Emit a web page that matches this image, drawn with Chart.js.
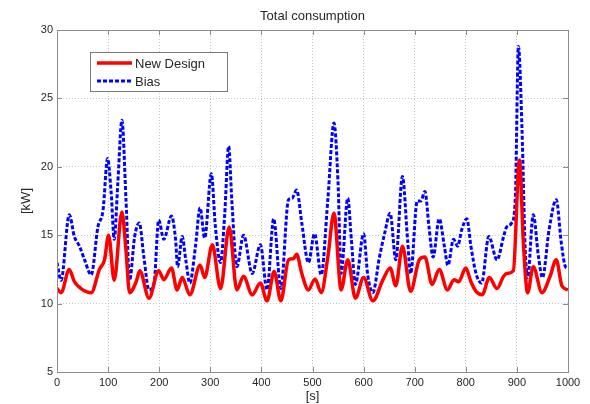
<!DOCTYPE html>
<html lang="en">
<head>
  <meta charset="UTF-8">
  <title>Total consumption</title>
  <script src="https://cdn.jsdelivr.net/npm/chart.js"></script>
  <style>
    html, body { margin: 0; padding: 0; background: #fff; }
    #wrap { width: 590px; height: 404px; }
  </style>
</head>
<body>
  <div id="wrap"><canvas id="consumptionChart"></canvas></div>
  <script>
    // values
    const chartTitle = 'Total consumption';
    const xTicks = [0, 100, 200, 300, 400, 500, 600, 700, 800, 900, 1000];
    const yTicks = [5, 10, 15, 20, 25, 30];

    const newDesignTime = [0, 8, 24, 34, 47, 67, 83, 93, 101, 112, 127, 135, 142, 155, 162, 180, 199, 209, 224, 235,
      245, 260, 280, 289, 304, 320, 337, 352, 365, 382, 398, 411, 425, 438, 453, 463, 469, 479, 492, 505,
      517, 530, 542, 556, 569, 584, 600, 618, 638, 652, 663, 676, 692, 709, 720, 734, 748, 764, 777, 786,
      800, 810, 820, 832, 846, 861, 874, 880, 893, 905, 913, 921, 932, 949, 965, 977, 988, 1000];
    const newDesignKW = [11.1, 10.8, 12.5, 11.6, 11.1, 10.8, 12.5, 13.2, 15.0, 11.7, 16.7, 13.9, 10.8, 11.6, 12.4, 10.4, 12.4, 11.75, 12.6, 11.0,
      11.9, 10.65, 12.8, 11.9, 14.3, 11.1, 15.6, 11.0, 12.0, 10.65, 11.5, 10.2, 12.35, 10.2, 13.2, 13.3, 13.6, 12.2, 11.0, 11.8,
      10.8, 13.4, 16.6, 11.0, 13.2, 10.4, 11.9, 10.2, 11.75, 12.6, 11.3, 14.2, 10.9, 13.2, 13.4, 11.4, 12.5, 11.0, 11.75, 11.6,
      12.6, 11.6, 10.9, 10.65, 11.9, 11.1, 12.0, 12.2, 12.4, 20.5, 14.2, 10.8, 12.7, 10.8, 12.0, 13.2, 11.3, 11.0];

    const biasTime = [0, 8, 24, 34, 44, 54, 67, 80, 90, 99, 106, 112, 119, 127, 135, 142, 152, 161, 170, 180,
      190, 199, 209, 224, 232, 236, 245, 252, 260, 271, 280, 289, 302, 310, 320, 328, 336, 342, 352, 365,
      382, 398, 411, 424, 438, 453, 460, 469, 479, 492, 504, 517, 530, 542, 550, 556, 569, 576, 584, 600,
      608, 618, 631, 641, 652, 663, 676, 686, 692, 705, 712, 720, 728, 736, 748, 758, 765, 776, 784, 792,
      802, 810, 820, 831, 845, 861, 874, 880, 890, 897, 903, 910, 916, 921, 932, 942, 950, 963, 977, 987,
      995, 1000];
    const biasKW = [13.0, 11.7, 16.5, 14.9, 14.2, 13.2, 12.1, 15.6, 16.8, 20.6, 18.1, 14.7, 18.8, 23.4, 17.6, 11.7, 14.9, 15.9, 13.4, 11.0,
      11.5, 16.1, 14.7, 16.4, 14.7, 12.7, 14.9, 13.2, 11.5, 14.2, 17.0, 14.8, 19.5, 15.6, 13.0, 16.4, 21.5, 17.6, 12.7, 15.0,
      12.2, 14.3, 11.0, 16.2, 11.1, 17.6, 17.7, 18.3, 15.9, 13.0, 15.1, 12.1, 17.6, 23.2, 18.8, 12.2, 17.7, 14.7, 11.4, 15.1,
      12.1, 10.8, 13.4, 15.1, 16.6, 13.2, 19.3, 14.7, 12.2, 17.5, 17.5, 18.2, 15.6, 13.4, 16.2, 14.2, 12.8, 14.7, 14.2, 15.4,
      16.2, 14.2, 12.2, 11.5, 14.9, 13.2, 14.9, 15.6, 15.9, 17.8, 28.8, 22.7, 14.2, 11.9, 16.5, 13.5, 11.9, 15.4, 17.6, 14.4,
      12.7, 12.6];

    const toPoints = (xs, ys) => xs.map((x, i) => ({ x: x, y: ys[i] }));

    const textColor = '#262626';
    const frameColor = '#8c8c8c';
    const fontFamily = 'Arial, "Liberation Sans", Helvetica, sans-serif';

    // title, box frame, inner ticks and the boxed legend inside the axes
    const matlabLook = {
      id: 'matlabLook',
      afterDraw(chart) {
        const ctx = chart.ctx;
        const a = chart.chartArea;
        const xs = chart.scales.x, ys = chart.scales.y;
        ctx.save();

        ctx.strokeStyle = frameColor;
        ctx.lineWidth = 1;
        ctx.beginPath();
        xTicks.forEach(v => {
          const px = Math.round(xs.getPixelForValue(v)) + 0.5;
          ctx.moveTo(px, a.bottom); ctx.lineTo(px, a.bottom - 5);
          ctx.moveTo(px, a.top); ctx.lineTo(px, a.top + 5);
        });
        yTicks.forEach(v => {
          const py = Math.round(ys.getPixelForValue(v)) + 0.5;
          ctx.moveTo(a.left, py); ctx.lineTo(a.left + 5, py);
          ctx.moveTo(a.right, py); ctx.lineTo(a.right - 5, py);
        });
        ctx.stroke();
        ctx.strokeRect(Math.round(a.left) + 0.5, Math.round(a.top) + 0.5,
          Math.round(a.right - a.left), Math.round(a.bottom - a.top));

        ctx.fillStyle = textColor;
        ctx.font = '13px ' + fontFamily;
        ctx.textAlign = 'center';
        ctx.textBaseline = 'middle';
        ctx.fillText(chartTitle, (a.left + a.right) / 2, 16);

        // legend
        const bx = 90, by = 52, bw = 137, bh = 39;
        ctx.fillStyle = '#fff';
        ctx.fillRect(bx, by, bw, bh);
        ctx.strokeStyle = '#7a7a7a';
        ctx.lineWidth = 1;
        ctx.strokeRect(bx + 0.5, by + 0.5, bw, bh);
        chart.data.datasets.forEach((ds, i) => {
          const ly = by + 11 + i * 18;
          ctx.strokeStyle = ds.borderColor;
          ctx.lineWidth = ds.borderWidth;
          ctx.setLineDash(ds.borderDash || []);
          ctx.beginPath();
          ctx.moveTo(bx + 7, ly); ctx.lineTo(bx + 42, ly);
          ctx.stroke();
          ctx.setLineDash([]);
          ctx.fillStyle = textColor;
          ctx.textAlign = 'left';
          ctx.font = '13px ' + fontFamily;
          ctx.fillText(ds.label, bx + 45, ly + 1);
        });
        ctx.restore();
      }
    };

    new Chart(document.getElementById('consumptionChart'), {
      type: 'line',
      data: {
        datasets: [{
          label: 'New Design',
          data: toPoints(newDesignTime, newDesignKW),
          borderColor: '#ff0000',
          borderWidth: 3.5,
          pointRadius: 0,
          cubicInterpolationMode: 'monotone'
        }, {
          label: 'Bias',
          data: toPoints(biasTime, biasKW),
          borderColor: '#0000ff',
          borderWidth: 3,
          borderDash: [4, 2],
          pointRadius: 0,
          cubicInterpolationMode: 'monotone'
        }]
      },
      options: {
        responsive: true,
        maintainAspectRatio: false,
        animation: false,
        layout: { padding: { top: 30, right: 22, left: 0, bottom: 0 } },
        plugins: {
          legend: { display: false },
          title: { display: false },
          tooltip: { enabled: false }
        },
        scales: {
          x: {
            type: 'linear',
            min: 0,
            max: 1000,
            afterFit: s => { s.height = 32; },
            afterBuildTicks: s => { s.ticks = xTicks.map(v => ({ value: v })); },
            grid: { color: '#c8c8c8', drawTicks: false },
            border: { display: false, dash: [1, 2] },
            ticks: {
              color: textColor, font: { size: 11, family: fontFamily }, padding: 4, maxRotation: 0,
              callback: v => String(v)
            },
            title: { display: true, text: '[s]', color: textColor, font: { size: 13, family: fontFamily }, padding: { top: 0, bottom: 0 } }
          },
          y: {
            min: 5,
            max: 30,
            afterFit: s => { s.width = 57; },
            afterBuildTicks: s => { s.ticks = yTicks.map(v => ({ value: v })); },
            grid: { color: '#c8c8c8', drawTicks: false },
            border: { display: false, dash: [1, 2] },
            ticks: { color: textColor, font: { size: 11, family: fontFamily }, padding: 4 },
            title: { display: true, text: '[kW]', color: textColor, font: { size: 13, family: fontFamily }, padding: { top: 19, bottom: 0 } }
          }
        }
      },
      plugins: [matlabLook]
    });
  </script>
</body>
</html>
